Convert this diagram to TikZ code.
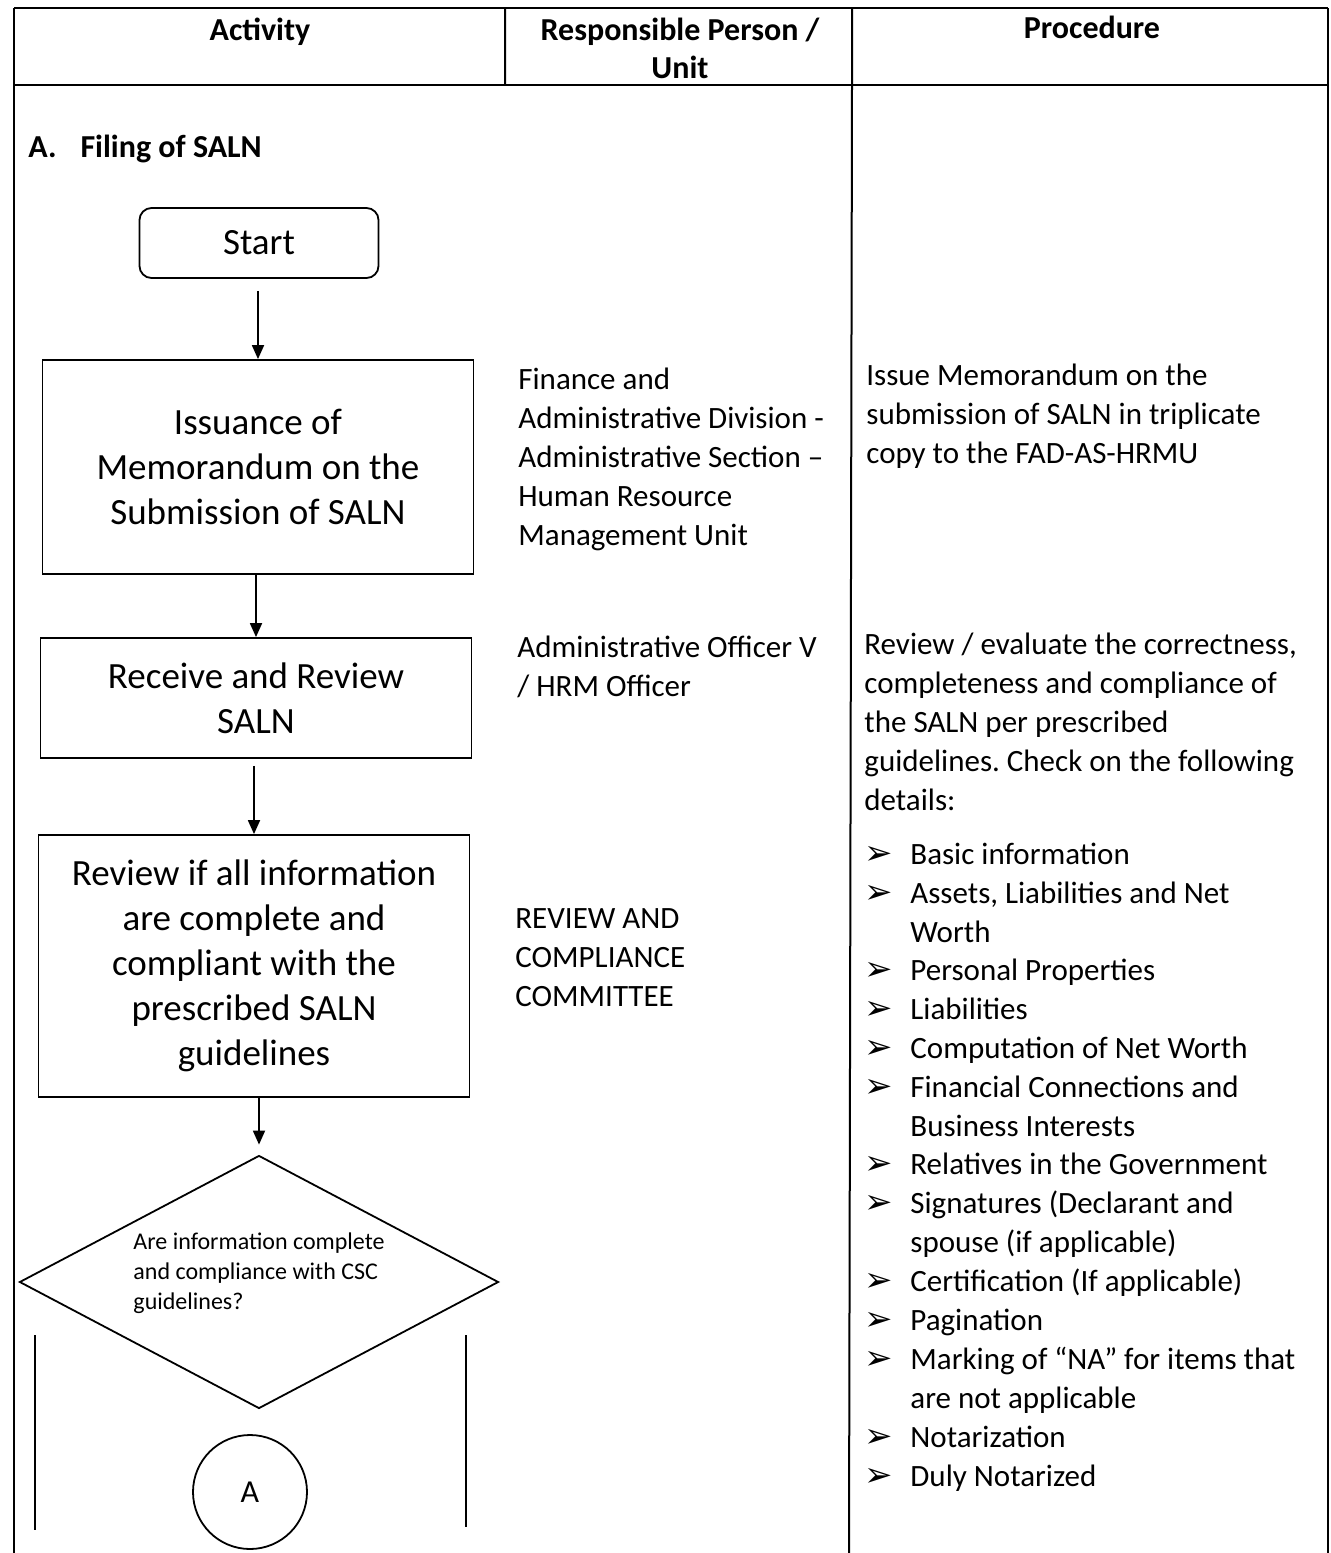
\documentclass[tikz,border=0pt]{standalone}
\usepackage{fontspec}
\setmainfont{Carlito}
\newfontfamily\symfont{DejaVu Sans}
\usetikzlibrary{shapes.geometric,arrows.meta}
\frenchspacing

\begin{document}
\begin{tikzpicture}[x=0.5pt,y=-0.5pt,
    every node/.style={inner sep=0pt},
    gridline/.style={line width=1pt},
    headtext/.style={align=center,font=\fontsize{16}{19}\selectfont\bfseries},
    bodytext/.style={anchor=base west,align=left,font=\fontsize{15.5}{19.5}\selectfont},
    processbox/.style={draw,line width=0.9pt,minimum width=215.5pt,align=center,
                    font=\fontsize{18.5}{22.5}\selectfont},
    startbox/.style={processbox,rounded corners=6pt,minimum width=119.5pt,minimum height=35pt},
    decision/.style={draw,diamond,aspect=1.9,line width=0.9pt,minimum width=239.5pt,minimum height=126.5pt,
                    align=left,font=\fontsize{12}{15}\selectfont},
    connector/.style={draw,line width=0.9pt},
    bulletmark/.style={anchor=base west,font=\symfont\fontsize{17}{19}\selectfont},
    flowarrow/.style={line width=0.9pt,-{Triangle[width=6pt,length=7pt]}}]
    \useasboundingbox (0,0) rectangle (1330,1553);

    % table
    \draw[gridline] (14,8) -- (1328,8) (14,85) -- (1328,85);
    \draw[gridline] (14,8) -- (14,1553) (1328,8) -- (1328,1553);
    \draw[gridline] (505,8) -- (505,85) (852,8) -- (852,85) -- (849,1553);
    \node[headtext] (hact) at (260,32) {Activity};
    \node[headtext] (hresp) at (680,48) {Responsible Person /\\Unit};
    \node[headtext] (hproc) at (1092,27) {Procedure};

    \node[anchor=base west,font=\fontsize{16}{19}\selectfont\bfseries] (secA) at (28,157)
        {A.\hspace{12pt}Filing of SALN};

    % flow
    \node[startbox] (start) at (259,243) {Start};
    \node[processbox,minimum height=107pt] (issue) at (258,467)
        {Issuance of\\Memorandum on the\\Submission of SALN};
    \node[processbox,minimum height=60pt] (receive) at (256,698) {Receive and Review\\SALN};
    \node[processbox,minimum height=131pt] (check) at (254,966)
        {Review if all information\\are complete and\\compliant with the\\prescribed SALN\\guidelines};
    \node[decision] (complete) at (259,1282)
        {Are information complete\\and compliance with CSC\\guidelines?\\[-4pt]};
    \node[draw,circle,line width=0.9pt,minimum size=57pt,font=\fontsize{16}{19}\selectfont] (conA) at (250,1492) {A};

    \draw[flowarrow,shorten <=6pt] (start.south -| issue.north) -- (issue.north);
    \draw[flowarrow] (issue.south -| receive.north) -- (receive.north);
    \draw[flowarrow,shorten <=3.5pt] (receive.south -| check.north) -- (check.north);
    \draw[flowarrow,shorten >=5pt] (check.south -| complete.north) -- (complete.north);

    \coordinate (noL) at (35,1335);
    \coordinate (noR) at (466,1335);
    \draw[connector] (noL) -- (35,1530);
    \draw[connector] (noR) -- (466,1527);

    % responsible
    \node[bodytext] (resp1) at (518,545) {Finance and\\Administrative Division -\\Administrative Section --\\Human Resource\\Management Unit};
    \node[bodytext] (resp2) at (517,696) {Administrative Officer V\\/ HRM Officer};
    \node[bodytext] (resp3) at (515,1006) {REVIEW AND\\COMPLIANCE\\COMMITTEE};

    % procedure
    \node[bodytext] (proc1) at (866,463) {Issue Memorandum on the\\submission of SALN in triplicate\\copy to the FAD-AS-HRMU};
    \node[bodytext] (proc2) at (864,810) {Review / evaluate the correctness,\\completeness and compliance of\\the SALN per prescribed\\guidelines. Check on the following\\details:};
    \foreach \y/\n/\txt in {864/0/{Basic information},
                         903/1/{Assets, Liabilities and Net\\Worth},
                         980/0/{Personal Properties},
                         1019/0/{Liabilities},
                         1058/0/{Computation of Net Worth},
                         1097/1/{Financial Connections and\\Business Interests},
                         1174/0/{Relatives in the Government},
                         1213/1/{Signatures (Declarant and\\spouse (if applicable)},
                         1291/0/{Certification (If applicable)},
                         1330/0/{Pagination},
                         1369/1/{Marking of “NA” for items that\\are not applicable},
                         1447/0/{Notarization},
                         1486/0/{Duly Notarized}}{
        \node[bulletmark] (mark\y) at (864,\y) {➢};
        \node[bodytext] (item\y) at (910,\y+39*\n) {\txt};
    }
\end{tikzpicture}
\end{document}
